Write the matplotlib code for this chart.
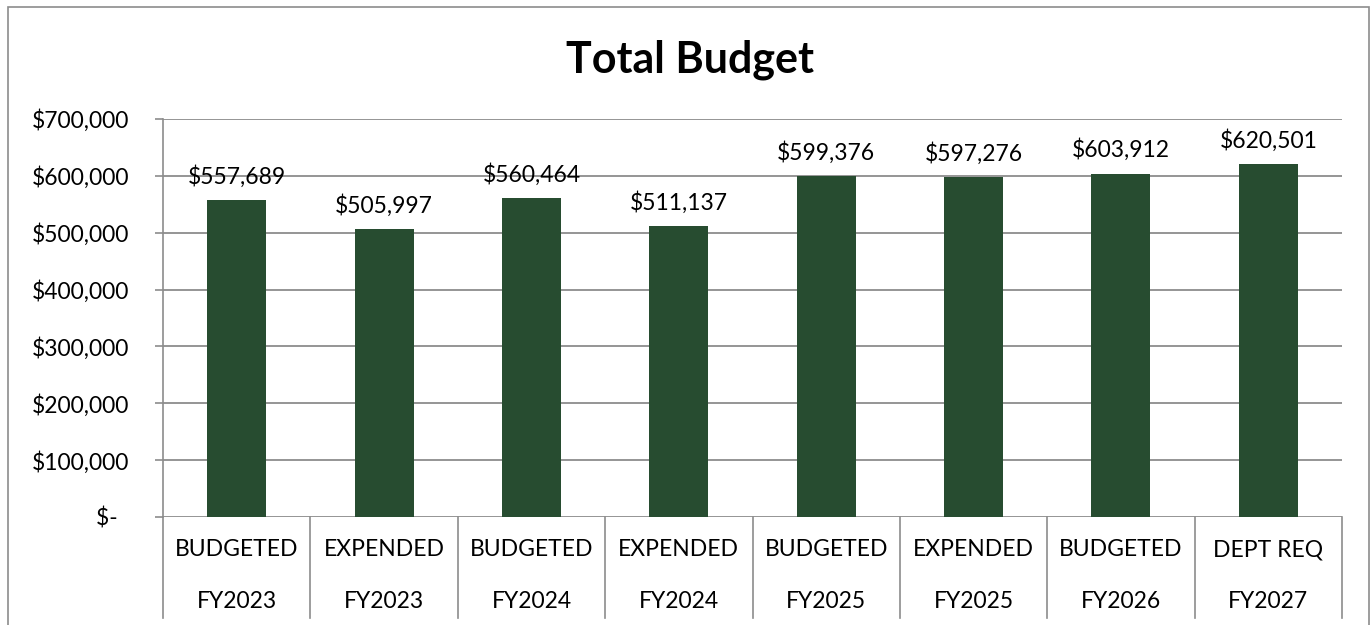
import matplotlib
matplotlib.use("Agg")
import matplotlib.pyplot as plt
from matplotlib.patches import Rectangle
from matplotlib.ticker import FuncFormatter

plt.rcParams['font.family'] = ['Lato', 'DejaVu Sans']

# data
status = ["BUDGETED", "EXPENDED", "BUDGETED", "EXPENDED",
          "BUDGETED", "EXPENDED", "BUDGETED", "DEPT REQ"]
years = ["FY2023", "FY2023", "FY2024", "FY2024",
         "FY2025", "FY2025", "FY2026", "FY2027"]
totals = [557689, 505997, 560464, 511137, 599376, 597276, 603912, 620501]

W, H = 1372, 625
grid_col = "#8c8c8c"
bar_col = "#274c30"
fs = 16.5

fig = plt.figure(figsize=(W / 100, H / 100), dpi=100)
ax = fig.add_axes([163 / W, 1 - 517 / H, (1342 - 163) / W, (517 - 119) / H])

x = range(len(totals))
ax.bar(x, totals, width=0.4, color=bar_col, zorder=3)
for xi, v in zip(x, totals):
    ax.annotate(f"${v:,}", (xi, v), xytext=(0, 9), textcoords="offset points",
                ha="center", va="bottom", fontsize=fs, zorder=4)

ax.set_xlim(-0.5, len(totals) - 0.5)
ax.set_ylim(0, 700000)
ax.set_yticks(range(0, 700001, 100000))
ax.yaxis.set_major_formatter(FuncFormatter(lambda v, p: "$-  " if v == 0 else f"${int(v):,}"))
ax.tick_params(axis="y", length=6, width=1.2, color=grid_col, labelsize=fs, pad=18)
ax.set_xticks([])
ax.grid(axis="y", color=grid_col, linewidth=1.3, zorder=0)
for s in ["top", "right", "bottom"]:
    ax.spines[s].set_visible(False)
ax.spines["left"].set_color(grid_col)
ax.spines["left"].set_linewidth(1.2)

# two-row category axis
tr = ax.get_xaxis_transform()
ax_h = 517 - 119
for xi in range(len(totals)):
    ax.text(xi, -(550 - 517) / ax_h, status[xi], transform=tr, ha="center", va="center", fontsize=fs)
    ax.text(xi, -(602 - 517) / ax_h, years[xi], transform=tr, ha="center", va="center", fontsize=fs)
for b in range(len(totals) + 1):
    ax.plot([b - 0.5, b - 0.5], [0, -(618 - 517) / ax_h], transform=tr,
            color=grid_col, linewidth=1.2, clip_on=False)

fig.text(690 / W, 1 - 60 / H, "Total Budget", ha="center", va="center",
         fontsize=31, fontweight="bold")

fig.patches.append(Rectangle((8 / W, -0.05), (1369 - 8) / W, 1 - 7 / H + 0.05,
                             transform=fig.transFigure, fill=False,
                             edgecolor=grid_col, linewidth=1.2))

fig.savefig("out.png", dpi=100)
